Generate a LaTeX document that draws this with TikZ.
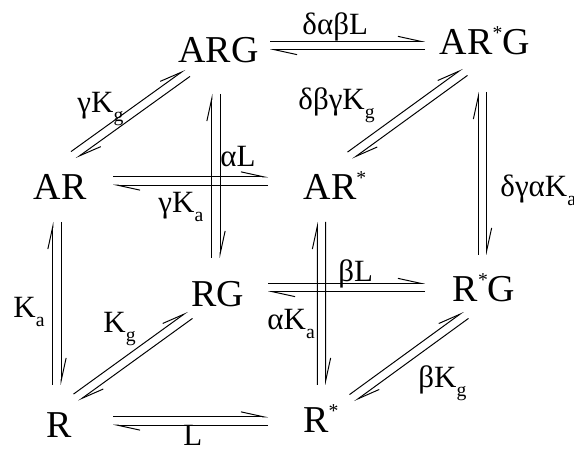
\documentclass[tikz,border=0pt]{standalone}
\usepackage{fontspec}
\setmainfont{Liberation Serif}
\usetikzlibrary{arrows.meta, calc}

\newcommand{\harpgap}{3pt}
\newcommand{\rstar}{\raisebox{11pt}{\fontsize{14}{14}\selectfont *}}
\newcommand{\lsub}[1]{\raisebox{-6pt}{\fontsize{14}{14}\selectfont #1}}
% two opposite harpoons between two points
\newcommand{\eqpair}[2]{%
  \draw[harp] ($#1!\harpgap!90:#2$) -- ($#2!\harpgap!-90:#1$);
  \draw[harp] ($#2!\harpgap!90:#1$) -- ($#1!\harpgap!-90:#2$);
}

\begin{document}
\begin{tikzpicture}[x=0.025cm, y=-0.025cm, line width=0.7pt,
          spc/.style={anchor=base, inner sep=0pt, font=\fontsize{27}{30}\selectfont},
          rate/.style={anchor=base west, inner sep=0pt, font=\fontsize{22}{24}\selectfont},
          harp/.style={-{Straight Barb[left, length=16pt, width=7pt]}}
        ]
        \useasboundingbox (0,0) rectangle (574,452);

        % back face
        \node[spc] (ARG)  at (218.5,63) {ARG};
        \node[spc] (ARsG) at (485,55)   {AR\rstar G};
        \node[spc] (RG)   at (218,307)  {RG};
        \node[spc] (RsG)  at (484,302)  {R\rstar G};
        % front face
        \node[spc] (AR)   at (60,200)   {AR};
        \node[spc] (ARs)  at (335,200)  {AR\rstar};
        \node[spc] (R)    at (59,438)   {R};
        \node[spc] (Rs)   at (321,433)  {R\rstar};

        % equilibria
        \eqpair{([shift={(13.5,-45)}]AR.base)}{([shift={(-31,10)}]ARG.base)}
        \eqpair{([shift={(51.5,-17.5)}]ARG.base)}{([shift={(-60,-9.5)}]ARsG.base)}
        \eqpair{([shift={(53,-19)}]AR.base)}{([shift={(-67,-19)}]ARs.base)}
        \eqpair{([shift={(-2,-53)}]R.base)}{([shift={(-3,22)}]AR.base)}
        \eqpair{([shift={(-2.5,31)}]ARG.base)}{([shift={(-2,-49)}]RG.base)}
        \eqpair{([shift={(-2.5,37)}]ARsG.base)}{([shift={(-1.5,-47)}]RsG.base)}
        \eqpair{([shift={(15,-44.5)}]ARs.base)}{([shift={(-20,17)}]ARsG.base)}
        \eqpair{([shift={(-13.5,22)}]ARs.base)}{([shift={(0.5,-48)}]Rs.base)}
        \eqpair{([shift={(17,-40.5)}]R.base)}{([shift={(-28,8)}]RG.base)}
        \eqpair{([shift={(50,-19.5)}]RG.base)}{([shift={(-59,-14.5)}]RsG.base)}
        \eqpair{([shift={(54,-17)}]R.base)}{([shift={(-53,-12)}]Rs.base)}
        \eqpair{([shift={(31,-35)}]Rs.base)}{([shift={(-18,13)}]RsG.base)}

        % rate labels
        \node[rate] (k1)  at (77,113)  {γK\lsub{g}};
        \node[rate] (k2)  at (302,35)  {δαβL};
        \node[rate] (k3)  at (220,167) {αL};
        \node[rate] (k4)  at (158,213) {γK\lsub{a}};
        \node[rate] (k5)  at (298,110) {δβγK\lsub{g}};
        \node[rate] (k6)  at (500,197) {δγαK\lsub{a}};
        \node[rate] (k7)  at (13,318)  {K\lsub{a}};
        \node[rate] (k8)  at (103,333) {K\lsub{g}};
        \node[rate] (k9)  at (338,282) {βL};
        \node[rate] (k10) at (267,330) {αK\lsub{a}};
        \node[rate] (k11) at (418,388) {βK\lsub{g}};
        \node[rate] (k12) at (183,446) {L};
      \end{tikzpicture}
\end{document}
